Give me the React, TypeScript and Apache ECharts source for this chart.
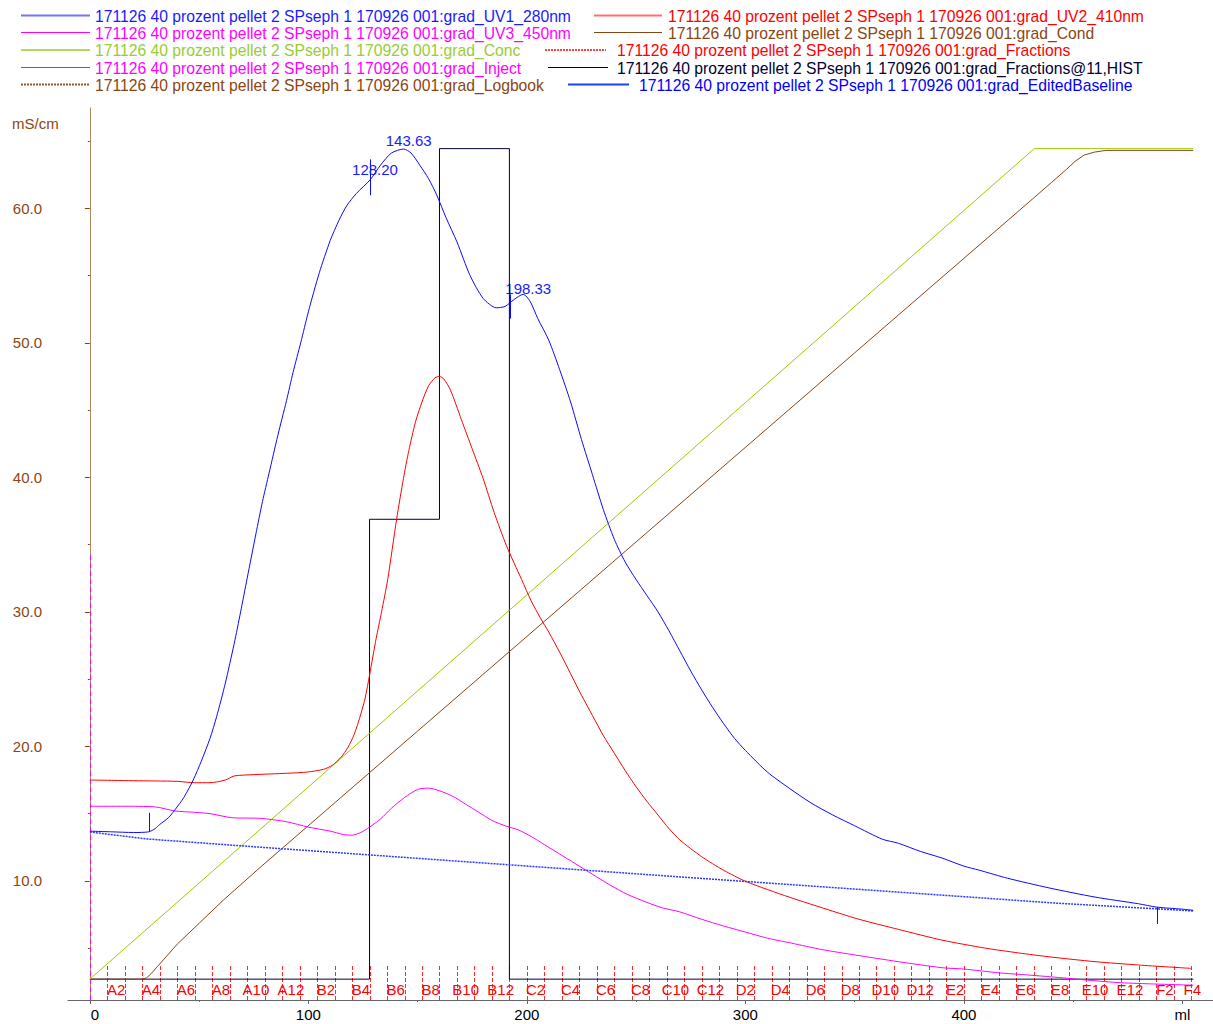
import React, { useEffect, useRef } from 'react';
import * as echarts from 'echarts';

const RUN = '171126 40 prozent pellet 2 SPseph 1 170926 001:';

// x in ml, y on the mS/cm scale of the chart
const uv1: number[][] = [
  [0, 13.7], [10, 13.65], [20, 13.6], [27, 13.65], [30, 13.9], [32, 14.2], [36, 14.7], [39, 15.3], [43, 16.2],
  [47.3, 17.5], [51, 18.9], [55, 20.6], [58, 22.2], [62, 24.7], [66, 27.6], [69, 30.0], [72, 32.5], [76, 35.8],
  [79, 38.2], [82, 40.3], [86, 43.1], [90, 45.7], [93, 47.8], [96.5, 50.0], [100, 52.3], [105, 55.2], [110, 57.6],
  [114, 59.1], [117.6, 60.2], [122, 61.1], [128.2, 62.1], [133, 63.2], [138, 64.1], [143.6, 64.4], [147, 64.1],
  [151, 63.2], [155, 62.2], [158.7, 61.0], [163, 59.3], [168, 57.5], [174, 55.0], [180, 53.3], [186, 52.6],
  [190, 52.7], [194, 53.2], [198.3, 53.6], [201.4, 53.1], [205, 51.8], [210, 50.2], [215, 48.0], [220, 45.6],
  [225, 42.8], [230, 40.2], [235, 37.6], [240, 35.4], [245, 33.7], [250, 32.4], [255, 31.2], [260, 30.0],
  [265, 28.6], [270, 27.1], [275, 25.6], [280, 24.2], [285, 22.9], [290, 21.7], [295, 20.6], [300, 19.7],
  [310, 18.1], [320, 16.9], [330, 15.8], [340, 14.9], [350, 14.1], [362.7, 13.1], [370, 12.8], [380, 12.2],
  [390, 11.7], [400, 11.1], [407, 10.8], [420, 10.2], [439, 9.48], [460, 8.8], [480, 8.3], [488, 8.06],
  [500, 7.9], [505, 7.82],
];

const uv2: number[][] = [
  [0, 17.5], [20, 17.45], [40, 17.4], [48, 17.3], [55, 17.3], [62, 17.5], [66, 17.8], [75, 17.9], [90, 18.0],
  [100, 18.1], [107, 18.3], [111, 18.6], [115, 19.2], [118, 19.9], [121, 20.9], [124, 22.4], [126, 23.6],
  [128, 25.3], [131, 28.0], [133.5, 30.0], [136.3, 32.4], [140.4, 36.9], [143.5, 39.9], [146, 42.0], [149, 44.1],
  [152, 45.6], [155, 46.8], [158, 47.4], [160, 47.5], [162, 47.3], [165, 46.5], [170, 44.3], [175, 42.1],
  [180, 39.9], [185, 37.4], [190.7, 34.9], [197.6, 32.4], [202, 30.8], [206, 29.6], [210, 28.5], [215, 27.0],
  [220, 25.4], [225, 23.8], [230, 22.3], [235, 20.8], [240, 19.5], [245, 18.2], [250, 17.0], [255, 15.9],
  [260, 14.9], [265, 13.9], [270, 13.05], [280, 11.8], [290, 10.8], [300.4, 9.95], [320, 8.8], [340, 7.75],
  [352, 7.15], [370, 6.4], [390, 5.6], [410, 5.0], [425, 4.65], [439, 4.36], [460, 4.0], [480, 3.75], [504, 3.5],
];

const uv3: number[][] = [
  [0, 15.55], [15, 15.55], [30, 15.5], [39, 15.2], [48, 15.1], [55, 15.0], [65, 14.7], [78, 14.65], [90, 14.4],
  [100, 14.0], [110, 13.7], [116, 13.45], [120, 13.4], [124, 13.6], [128, 14.0], [133, 14.6], [138, 15.4],
  [144, 16.2], [150, 16.8], [155, 16.9], [160, 16.7], [166, 16.3], [172, 15.7], [178, 15.1], [184, 14.5],
  [190, 14.1], [196, 13.8], [202, 13.3], [208, 12.7], [215, 12.0], [222, 11.3], [230, 10.5], [238, 9.7],
  [246, 9.0], [255, 8.4], [262, 8.0], [270, 7.7], [280, 7.15], [290, 6.65], [300, 6.2], [310, 5.75],
  [321, 5.38], [335, 4.9], [350, 4.5], [370, 4.0], [390, 3.55], [400, 3.45], [416, 3.17], [430, 3.0],
  [440, 2.87], [455, 2.65], [470, 2.45], [485, 2.35], [505, 2.25],
];

const editedBaseline: number[][] = [
  [0, 13.64], [26, 13.12], [76, 12.53], [150, 11.68], [270, 10.3], [408, 8.74], [440, 8.37], [505, 7.77],
];

const cond: number[][] = [
  [0, 2.7], [24, 2.7], [26, 2.8], [28, 3.1], [31, 3.65], [34, 4.2], [40, 5.3], [50, 6.85], [61.2, 8.59],
  [77.9, 11.0], [150, 21.14], [250, 35.2], [350, 49.25], [431.5, 60.7], [440, 61.9], [447, 62.9], [451, 63.5],
  [455, 63.95], [459.7, 64.17], [465, 64.3], [505, 64.3],
];

const conc: number[][] = [[0, 2.7], [432.2, 64.43], [505, 64.43]];

const fractionsHist: number[][] = [
  [0, 2.7], [128, 2.7], [128, 36.88], [160, 36.88], [160, 64.43], [192, 64.43], [192, 2.7], [505, 2.7],
];

// [x, yFrom, yTo]
const injectMark: number[][] = [[0, 1.15, 34.42]];

const fractionBoundaries: number[] = [
  8, 16, 24, 32, 40, 48, 56, 64, 72, 80, 88, 96, 104, 112, 120, 128, 136, 144, 152, 160, 168, 176, 184, 192,
  200, 208, 216, 224, 232, 240, 248, 256, 264, 272, 280, 288, 296, 304, 312, 320, 328, 336, 344, 352, 360,
  368, 376, 384, 392, 400, 408, 416, 424, 432, 440, 448, 456, 464, 472, 480, 488, 496, 504,
];
const fractionLabels: string[] = [
  'A2', 'A4', 'A6', 'A8', 'A10', 'A12', 'B2', 'B4', 'B6', 'B8', 'B10', 'B12', 'C2', 'C4', 'C6', 'C8', 'C10',
  'C12', 'D2', 'D4', 'D6', 'D8', 'D10', 'D12', 'E2', 'E4', 'E6', 'E8', 'E10', 'E12', 'F2', 'F4',
];
const fractionLabelCenters: number[] = [
  12, 28, 44, 60, 76, 92, 108, 124, 140, 156, 172, 188, 204, 220, 236, 252, 268, 284, 300, 316, 332, 348,
  364, 380, 396, 412, 428, 444, 460, 476, 492, 504.5,
];

const peakRetentions: number[] = [128.2, 143.63, 198.33];
const peakLabelLevels: number[] = [62.9, 65.0, 54.05];
// [x, yFrom, yTo]
const peakMarks: number[][] = [[27.07, 13.65, 15.06], [128.2, 60.97, 63.63], [192.3, 51.8, 53.6], [488.4, 6.8, 8.06]];

const xTickValues = [0, 100, 200, 300, 400, 500];
const xMinorTickValues = [50, 150, 250, 350, 450];
const yTickValues = [10, 20, 30, 40, 50, 60];
const yMinorTickValues = [5, 15, 25, 35, 45, 55, 65];

const FONT = '"Liberation Sans", Arial, sans-serif';
const X_MIN = -10;
const X_MAX = 514;
const Y_MIN = 1.15;
const Y_MAX = 67.45;
const FRAC_BOTTOM = 1.15;
const FRAC_TOP = 3.75;
const FRAC_LABEL_Y = 1.9;

type LegendEntry = {
  name: string; text: string; sample: string; x1: number; x2: number; tx: number; y: number; w: number; dash?: number[];
};

const legendEntries: LegendEntry[] = [
  { name: 'grad_UV1_280nm', text: '#1a1aff', sample: '#7373ff', x1: 21, x2: 90, tx: 95, y: 15, w: 2 },
  { name: 'grad_UV3_450nm', text: '#ff00ff', sample: '#ff00ff', x1: 21, x2: 90, tx: 95, y: 32, w: 1 },
  { name: 'grad_Conc', text: '#99cc33', sample: '#b3d65c', x1: 21, x2: 90, tx: 95, y: 49.5, w: 2 },
  { name: 'grad_Inject', text: '#ff00ff', sample: '#ff00ff', x1: 21, x2: 90, tx: 95, y: 67, w: 1 },
  { name: 'grad_Logbook', text: '#8b4513', sample: '#8b5a2b', x1: 21, x2: 90, tx: 95, y: 84, w: 2, dash: [2, 1] },
  { name: 'grad_UV2_410nm', text: '#ff0000', sample: '#ff7070', x1: 594, x2: 662, tx: 668, y: 15, w: 2 },
  { name: 'grad_Cond', text: '#8b4513', sample: '#8b4513', x1: 594, x2: 662, tx: 668, y: 32, w: 1 },
  { name: 'grad_Fractions', text: '#ff0000', sample: '#ff4040', x1: 545, x2: 606, tx: 617, y: 49.5, w: 2, dash: [2, 1] },
  { name: 'grad_Fractions@11,HIST', text: '#000033', sample: '#000033', x1: 548, x2: 608, tx: 617, y: 67, w: 1 },
  { name: 'grad_EditedBaseline', text: '#0000ff', sample: '#1f3fff', x1: 568, x2: 629, tx: 639, y: 84, w: 2 },
];

function segmentSeries(name: string, data: number[][], color: string, width: number, dash: number[] | null) {
  return {
    type: 'custom',
    name,
    silent: true,
    data,
    encode: { x: 0, y: [1, 2] },
    renderItem: (_p: any, api: any) => {
      const a = api.coord([api.value(0), api.value(1)]);
      const b = api.coord([api.value(0), api.value(2)]);
      return {
        type: 'line',
        shape: { x1: Math.round(a[0]) + 0.5, y1: a[1], x2: Math.round(b[0]) + 0.5, y2: b[1] },
        style: { stroke: color, lineWidth: width, lineDash: dash || undefined },
      };
    },
  };
}

function textSeries(name: string, xs: number[], ys: number[], texts: string[], color: string, dx: number) {
  return {
    type: 'custom',
    name,
    silent: true,
    data: xs.map((x, i) => [x, ys[i]]),
    encode: { x: 0, y: 1 },
    renderItem: (p: any, api: any) => {
      const c = api.coord([api.value(0), api.value(1)]);
      return {
        type: 'text',
        x: c[0] + dx,
        y: c[1],
        style: {
          text: texts[p.dataIndex],
          fill: color,
          font: `15px ${FONT}`,
          textAlign: 'center',
          textVerticalAlign: 'middle',
          align: 'center',
          verticalAlign: 'middle',
        },
      };
    },
  };
}

function lineSeries(name: string, data: number[][], color: string, width: number, smooth: number, dash?: any) {
  return {
    type: 'line',
    name,
    data,
    showSymbol: false,
    symbol: 'none',
    smooth: smooth > 0 ? smooth : false,
    silent: true,
    lineStyle: { color, width, type: dash || 'solid' },
    itemStyle: { color },
  };
}

export default function App() {
  const ref = useRef<HTMLDivElement>(null);
  useEffect(() => {
    if (!ref.current) return;
    const chart = echarts.init(ref.current, null, { renderer: 'svg' });

    const legendGraphics: any[] = [];
    legendEntries.forEach((e) => {
      legendGraphics.push({
        type: 'line',
        shape: { x1: e.x1, y1: e.y + 0.5, x2: e.x2, y2: e.y + 0.5 },
        style: { stroke: e.sample, lineWidth: e.w, lineDash: e.dash },
        silent: true,
      });
      legendGraphics.push({
        type: 'text',
        x: e.tx,
        y: e.y + 1,
        silent: true,
        style: {
          text: RUN + e.name,
          fill: e.text,
          font: `15.7px ${FONT}`,
          textAlign: 'left',
          textVerticalAlign: 'middle',
        },
      });
    });
    legendGraphics.push({
      type: 'text',
      x: 12,
      y: 123,
      silent: true,
      style: { text: 'mS/cm', fill: '#8b4513', font: `15px ${FONT}`, textAlign: 'left', textVerticalAlign: 'middle' },
    });

    const yBase = {
      type: 'value',
      min: Y_MIN,
      max: Y_MAX,
      position: 'left',
      splitLine: { show: false },
    };
    const xBase = {
      type: 'value',
      min: X_MIN,
      max: X_MAX,
      position: 'bottom',
      splitLine: { show: false },
    };

    chart.setOption({
      animation: false,
      backgroundColor: '#ffffff',
      textStyle: { fontFamily: FONT },
      grid: { left: 68, top: 108, width: 1145, height: 892, containLabel: false },
      xAxis: [
        {
          ...xBase,
          axisLine: { show: true, lineStyle: { color: '#666666', width: 1 } },
          axisTick: { show: true, customValues: xTickValues, length: 4, lineStyle: { color: '#666666' } },
          axisLabel: {
            show: true,
            customValues: xTickValues,
            formatter: (v: number) => (v === 500 ? 'ml' : v === 0 ? '{z|0}' : String(v)),
            rich: { z: { padding: [0, 0, 0, 10], fontSize: 15, color: '#000000' } },
            color: '#000000',
            fontSize: 15,
            fontFamily: FONT,
            margin: 7,
          },
        },
        {
          ...xBase,
          axisLine: { show: false },
          axisTick: { show: true, customValues: xMinorTickValues, length: 2, lineStyle: { color: '#666666' } },
          axisLabel: { show: false },
        },
      ],
      yAxis: [
        {
          ...yBase,
          axisLine: { show: true, lineStyle: { color: '#a8865e', width: 1 } },
          axisTick: { show: true, customValues: yTickValues, length: 5, lineStyle: { color: '#8b4513' } },
          axisLabel: {
            show: true,
            customValues: yTickValues,
            formatter: (v: number) => v.toFixed(1),
            color: '#8b4513',
            fontSize: 15,
            fontFamily: FONT,
            margin: 26,
          },
        },
        {
          ...yBase,
          axisLine: { show: false },
          axisTick: { show: true, customValues: yMinorTickValues, length: 2, lineStyle: { color: '#8b4513' } },
          axisLabel: { show: false },
        },
      ],
      graphic: legendGraphics,
      series: [
        lineSeries('grad_Fractions@11,HIST', fractionsHist, '#000033', 1, 0),
        segmentSeries('grad_Fractions', fractionBoundaries.map((b) => [b, FRAC_BOTTOM, FRAC_TOP]), '#ff2a2a', 1, [4, 2]),
        textSeries('fraction labels', fractionLabelCenters, fractionLabelCenters.map(() => FRAC_LABEL_Y), fractionLabels, '#ff0000', 0),
        lineSeries('grad_Cond', cond, '#8b4513', 1, 0),
        lineSeries('grad_Conc', conc, '#99cc00', 1, 0),
        lineSeries('grad_UV3_450nm', uv3, '#ff00ff', 1, 0.25),
        lineSeries('grad_UV2_410nm', uv2, '#ff0000', 1, 0.25),
        lineSeries('grad_EditedBaseline', editedBaseline, '#2a3cff', 1.5, 0, [2, 1]),
        lineSeries('grad_UV1_280nm', uv1, '#0a0aff', 1, 0.25),
        segmentSeries('grad_Inject', injectMark, '#ff00ff', 1, [5, 3]),
        segmentSeries('peak marks', peakMarks, '#0a0aff', 1, null),
        textSeries('peak labels', peakRetentions, peakLabelLevels, peakRetentions.map((v) => v.toFixed(2)), '#1a1aff', 5),
      ],
    });
    return () => chart.dispose();
  }, []);

  return <div ref={ref} style={{ position: 'absolute', left: 0, top: 0, width: 1213, height: 1024 }} />;
}
